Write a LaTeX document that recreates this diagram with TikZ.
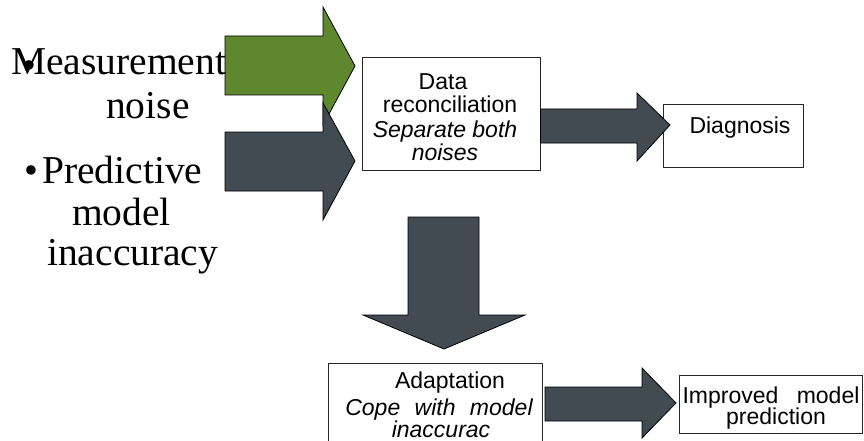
\documentclass[tikz,border=0pt]{standalone}
\usepackage{fontspec}
\setmainfont{Liberation Serif}
\newfontfamily\arialfont{Liberation Sans}
\definecolor{olivegreen}{RGB}{94,135,46}
\definecolor{slate}{RGB}{66,74,82}
\begin{document}
\begin{tikzpicture}[x=1pt,y=-1pt,
  blockarrow/.style={draw=black,line width=0.8pt,line join=miter},
  greenarrow/.style={blockarrow,fill=olivegreen},
  darkarrow/.style={blockarrow,fill=slate},
  boxnode/.style={draw=black!85,line width=0.9pt,fill=white,inner sep=0pt},
  sanslabel/.style={inner sep=0pt,anchor=base,font=\arialfont\fontsize{23}{24}\selectfont},
  itlabel/.style={sanslabel,font=\arialfont\itshape\fontsize{23}{24}\selectfont},
  seriflabel/.style={inner sep=0pt,anchor=base west,font=\fontsize{39.5}{42}\selectfont}]
\useasboundingbox (0,0) rectangle (864,441);

% boxes
\node[boxnode,minimum width=178pt,minimum height=113pt] (data) at (451,113.5) {};
\node[boxnode,minimum width=140pt,minimum height=63pt] (diag) at (733,135.5) {};
\node[boxnode,minimum width=214pt,minimum height=90pt] (adapt) at (435,408) {};
\node[boxnode,minimum width=183.5pt,minimum height=58pt] (impr) at (770.75,404) {};

% block arrows
\draw[greenarrow] (225,36) -- (323,36) -- (323,7) -- (355,66) -- (323,125) -- (323,95) -- (225,95) -- cycle;
\draw[darkarrow] (225,132) -- (323,132) -- (323,103) -- (355,161) -- (323,220) -- (323,191) -- (225,191) -- cycle;
\draw[darkarrow] (data.east |- 0,109) -- (637,109) -- (637,93) -- (670,125) -- (637,161) -- (637,143) -- (data.east |- 0,143) -- cycle;
\draw[darkarrow] (408,217) -- (479,217) -- (479,315) -- (525,315) -- (444,349) -- (363,315) -- (408,315) -- cycle;
\draw[darkarrow] (545,387) -- (642,387) -- (642,368) -- (676,403) -- (642,438) -- (642,421) -- (545,421) -- cycle;

% box texts
\node[sanslabel] (d1) at (443,90) {Data};
\node[sanslabel] (d2) at (450,113) {reconciliation};
\node[itlabel] (d3) at (445,137) {Separate both};
\node[itlabel] (d4) at (445,160) {noises};
\node[sanslabel] (g1) at (740,133) {Diagnosis};
\node[sanslabel] (a1) at (450,388) {Adaptation};
\node[itlabel] (a2) at (439,415) {Cope\hspace{8pt} with\hspace{8pt} model};
\node[itlabel] (a3) at (441,437) {inaccurac};
\node[sanslabel] (i1) at (771,403) {Improved\hspace{12pt} model};
\node[sanslabel] (i2) at (776,424) {prediction};

% left serif text
\node[seriflabel] (m1) at (11,75) {Measurement};
\node[seriflabel] (mb) at (22,79) {•};
\node[seriflabel] (m2) at (106,118) {noise};
\node[seriflabel] (pb) at (24,183) {•};
\node[seriflabel] (p1) at (42,183) {Predictive};
\node[seriflabel] (p2) at (72,225) {model};
\node[seriflabel] (p3) at (47,265) {inaccuracy};
\end{tikzpicture}
\end{document}
